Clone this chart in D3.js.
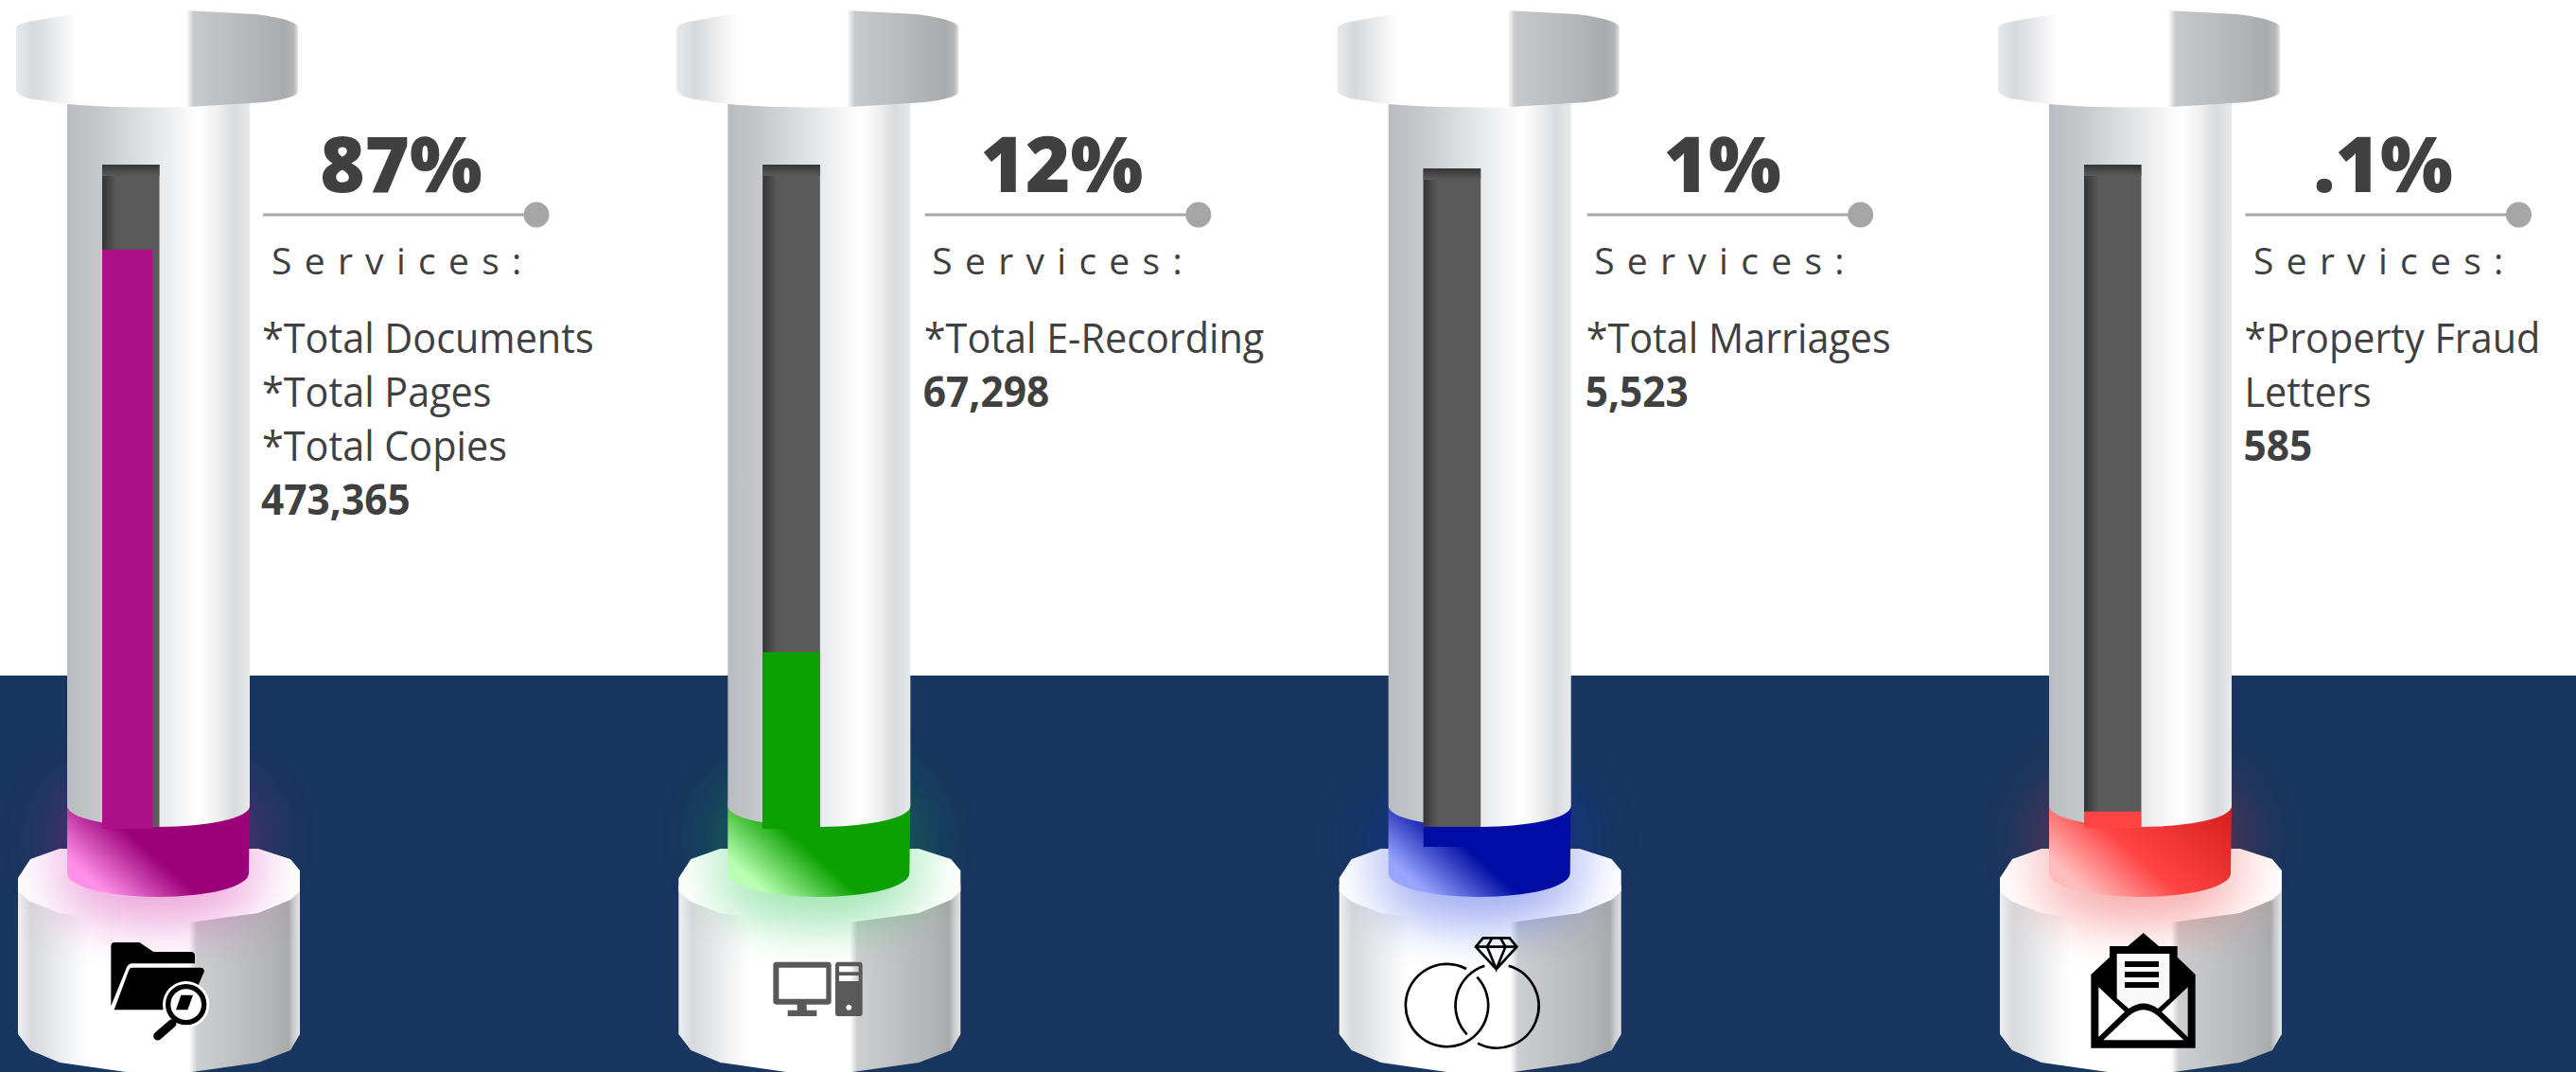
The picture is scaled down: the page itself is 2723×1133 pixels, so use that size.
<!DOCTYPE html>
<html>
<head>
<meta charset="utf-8">
<script src="https://cdn.jsdelivr.net/npm/d3@7"></script>
<style>
  html, body { margin: 0; padding: 0; background: #fff; }
  svg { display: block; }
  text { font-family: "Open Sans", sans-serif; fill: #404040; }
</style>
</head>
<body>
<svg id="chart"></svg>
<script>
// Chart data
const percentLabels = ["87%", "12%", "1%", ".1%"];
const serviceLines = [
  ["*Total Documents", "*Total Pages", "*Total Copies"],
  ["*Total E-Recording"],
  ["*Total Marriages"],
  ["*Property Fraud", "Letters"]
];
const totals = [473365, 67298, 5523, 585];
// fill level of each gauge as drawn, % of the slot height
const fillTop = [87.2, 26.6, 0.3, 2.6];
const fillBase = [0, 0, -2.7, 0.1];

// Colours per column
const barColors = ["#ad0f87", "#0ca100", "#000ca3", "#ff4444"];
const bandLight = ["#ff8fe8", "#b8ffb2", "#98a4ff", "#ffbcbc"];
const bandDark = ["#9b0078", "#0ca100", "#000ca3", "#ff4444"];
const bandEnd = ["#9b0078", "#0ca100", "#000ca3", "#d82020"];
const glowColors = ["#d020a8", "#10c040", "#1030e0", "#f03030"];

const svgWidth = 2723;
const svgHeight = 1133;
const navyTop = 714;
// small per-column nudges of the text block against the tube
const bodyNudge = [0, 1.5, 3, 0.5];
const servicesNudge = [0, 0, 1.5, 0];

const svg = d3.select("#chart")
  .attr("width", svgWidth)
  .attr("height", svgHeight);

const xCol = d3.scaleLinear().domain([0, 3]).range([0, 2095]);
const yLevel = d3.scaleLinear().domain([0, 100]).range([876, 174]);

const defs = svg.append("defs");

function addGradient(id, stops, x1, x2, y1, y2) {
  const g = defs.append("linearGradient")
    .attr("id", id)
    .attr("gradientUnits", "userSpaceOnUse")
    .attr("x1", x1).attr("x2", x2)
    .attr("y1", y1 || 0).attr("y2", y2 || 0);
  stops.forEach(s => {
    g.append("stop")
      .attr("offset", (s[0] - stops[0][0]) / (stops[stops.length - 1][0] - stops[0][0]))
      .attr("stop-color", s[1]);
  });
}

addGradient("capGrad", [[17, "#e8e9eb"], [36, "#d7d8db"], [81, "#ffffff"], [197, "#ffffff"], [205, "#c8c9cb"],
  [244, "#bcbdc0"], [301, "#aaabad"], [310, "#b5b6b8"], [315, "#e0e1e3"]], 17, 315);
addGradient("tubeGrad", [[71, "#b9bcc0"], [105, "#c5c8cb"], [166, "#e6e7e9"], [211, "#ffffff"], [228, "#f2f2f2"],
  [248, "#d9dadc"], [264, "#e8e9eb"]], 71, 264);
addGradient("baseGrad", [[19, "#eff0f2"], [33, "#d8d9dc"], [60, "#e9eaec"], [93, "#ffffff"], [200, "#ffffff"],
  [208, "#ccced0"], [287, "#b3b4b6"], [305, "#a9aaac"], [310, "#c9cacb"], [317, "#e4e5e7"]], 19, 317);
addGradient("wellLeft", [[108, "#343434"], [123, "#5a5a5a"]], 108, 123);
addGradient("wellTop", [[0, "#343434"], [12, "#5a5a5a"]], 0, 0, 0, 12);

barColors.forEach((c, i) => {
  const g = defs.append("linearGradient")
    .attr("id", "band" + i)
    .attr("gradientUnits", "userSpaceOnUse")
    .attr("x1", 80).attr("y1", 915)
    .attr("x2", 189).attr("y2", 793);
  g.append("stop").attr("offset", 0).attr("stop-color", bandLight[i]);
  g.append("stop").attr("offset", 0.39).attr("stop-color", bandDark[i]);
  g.append("stop").attr("offset", 1).attr("stop-color", bandEnd[i]);
});

const blur = defs.append("filter")
  .attr("id", "glow")
  .attr("x", "-50%").attr("y", "-80%")
  .attr("width", "200%").attr("height", "260%");
blur.append("feGaussianBlur").attr("stdDeviation", 26);

defs.append("clipPath").attr("id", "belowLine")
  .append("rect")
  .attr("x", -100).attr("y", navyTop)
  .attr("width", 600).attr("height", svgHeight - navyTop);

const pedestalBody = "M19 935 L19 1093 L32 1110 L63 1123 L133 1133 L203 1133 L273 1123 L307 1110 L317 1093 L317 935 Z";
const pedestalFace = "M19 928 L32 908 L63 897 L273 897 L307 908 L317 920 L317 942 L307 951 L273 965 L200 975 L133 975 L63 965 L32 953 L19 942 Z";

defs.append("clipPath").attr("id", "onPedestal")
  .selectAll("path")
  .data([pedestalBody, pedestalFace])
  .join("path")
  .attr("d", d => d);

// Background
svg.append("rect").attr("width", svgWidth).attr("height", svgHeight).attr("fill", "#fff");
svg.append("rect")
  .attr("y", navyTop)
  .attr("width", svgWidth)
  .attr("height", svgHeight - navyTop)
  .attr("fill", "#18365f");

const columns = svg.selectAll("g.column")
  .data(percentLabels)
  .join("g")
  .attr("class", "column")
  .attr("transform", (d, i) => "translate(" + xCol(i) + ",0)");

// Pedestal
columns.append("path")
  .attr("fill", "url(#baseGrad)")
  .attr("d", pedestalBody);
columns.append("path")
  .attr("fill", "#ffffff")
  .attr("d", pedestalFace);

// Glow round the lit ring
columns.append("g")
  .attr("clip-path", "url(#belowLine)")
  .append("ellipse")
  .attr("cx", 167).attr("cy", 885)
  .attr("rx", 120).attr("ry", 85)
  .attr("fill", (d, i) => glowColors[i])
  .attr("opacity", 0.24)
  .attr("filter", "url(#glow)");
// the same light falling on the pedestal reads wider
columns.append("g")
  .attr("clip-path", "url(#onPedestal)")
  .append("ellipse")
  .attr("cx", 167).attr("cy", 945)
  .attr("rx", 115).attr("ry", 34)
  .attr("fill", (d, i) => glowColors[i])
  .attr("opacity", 0.24)
  .attr("filter", "url(#glow)");

// Lit ring
columns.append("path")
  .attr("fill", (d, i) => "url(#band" + i + ")")
  .attr("d", "M71 845 L71 923 A96 25 0 0 0 263 923 L264 845 Z");

// Tube
columns.append("path")
  .attr("fill", "url(#tubeGrad)")
  .attr("d", "M71 100 L71 852 A96.5 22 0 0 0 264 852 L264 100 Z");

// Slot
const slotTop = i => yLevel(100) + (i === 2 ? 4 : 0);
columns.append("rect")
  .attr("x", 108).attr("width", 60.5)
  .attr("y", (d, i) => slotTop(i))
  .attr("height", (d, i) => yLevel(0) - 2 - slotTop(i))
  .attr("fill", "#5a5a5a");
columns.append("rect")
  .attr("x", 108).attr("width", 15)
  .attr("y", (d, i) => slotTop(i))
  .attr("height", (d, i) => yLevel(0) - 2 - slotTop(i))
  .attr("fill", "url(#wellLeft)");
columns.append("rect")
  .attr("x", 108).attr("width", 60.5)
  .attr("y", 0).attr("height", 12)
  .attr("transform", (d, i) => "translate(0," + slotTop(i) + ")")
  .attr("fill", "url(#wellTop)");

// Fill bar
columns.append("rect")
  .attr("x", 108)
  .attr("width", (d, i) => i === 0 ? 53.5 : 60)
  .attr("y", (d, i) => yLevel(fillTop[i]))
  .attr("height", (d, i) => yLevel(fillBase[i]) - yLevel(fillTop[i]))
  .attr("fill", (d, i) => barColors[i]);

// Cap
columns.append("path")
  .attr("fill", "url(#capGrad)")
  .attr("d", "M17 30 Q17 26 30 23 L70 16 Q130 11 195 11 L270 15 Q310 20 315 28 L315 98 Q310 104 280 108 L200 113 Q130 115 70 110 L30 104 Q17 100 17 95 Z");

// Leader line and dot
columns.append("line")
  .attr("x1", (d, i) => 278 + bodyNudge[i]).attr("x2", (d, i) => 567 + bodyNudge[i])
  .attr("y1", 227).attr("y2", 227)
  .attr("stroke", "#a6a6a6").attr("stroke-width", 3);
columns.append("circle")
  .attr("cx", (d, i) => 567 + bodyNudge[i]).attr("cy", 227).attr("r", 13.5)
  .attr("fill", "#a6a6a6");

// Text
columns.append("text")
  .attr("x", 424).attr("y", 203)
  .attr("text-anchor", "middle")
  .style("font-size", "81px")
  .style("font-weight", 800)
  .text(d => d);

columns.append("text")
  .attr("x", (d, i) => 287 + servicesNudge[i]).attr("y", 290)
  .style("font-size", "39px")
  .style("letter-spacing", "13.3px")
  .text("Services:");

// the reference face runs a little narrower than Open Sans
columns.each(function(d, i) {
  const g = d3.select(this);
  const x = 277 + bodyNudge[i];
  serviceLines[i].forEach((line, j) => {
    g.append("text")
      .attr("transform", "translate(" + x + "," + (372.5 + j * 57) + ") scale(0.94,1)")
      .style("font-size", "44px")
      .text(line);
  });
  g.append("text")
    .attr("transform", "translate(" + (x - 1) + "," + (372.5 + serviceLines[i].length * 57) + ") scale(0.965,1)")
    .style("font-size", "44px")
    .style("font-weight", 700)
    .text(d3.format(",")(totals[i]));
});

// Icons, drawn in 3x pixel units
const iconOrigins = [0, 680, 1380, 2080];
const icons = svg.selectAll("g.icon")
  .data(iconOrigins)
  .join("g")
  .attr("class", "icon")
  .attr("transform", d => "translate(" + d + ",780) scale(" + (1 / 3) + ")");

// folder with magnifier
const folder = d3.select(icons.nodes()[0]);
folder.append("path").attr("fill", "#000")
  .attr("d", "M352 660 q0 -12 12 -12 h78 l45 30 h118 q13 0 13 12 v25 H420 q-12 0 -18 12 L352 850 Z");
folder.append("path").attr("fill", "#000")
  .attr("d", "M418 728 H635 q15 0 12 14 L595 862 H362 L408 738 q3 -10 10 -10 Z");
folder.append("circle").attr("cx", 590).attr("cy", 845).attr("r", 74).attr("fill", "#fff");
folder.append("circle").attr("cx", 590).attr("cy", 845).attr("r", 57)
  .attr("fill", "#fff").attr("stroke", "#000").attr("stroke-width", 16);
folder.append("path").attr("fill", "#000")
  .attr("d", "M558 862 L574 815 H612 L595 862 Z");
folder.append("line")
  .attr("x1", 546).attr("y1", 905).attr("x2", 500).attr("y2", 945)
  .attr("stroke", "#000").attr("stroke-width", 27).attr("stroke-linecap", "round");
folder.append("line")
  .attr("x1", 556).attr("y1", 893).attr("x2", 538).attr("y2", 910)
  .attr("stroke", "#000").attr("stroke-width", 10);

// computer
d3.select(icons.nodes()[1]).append("path")
  .attr("fill", "#595959")
  .attr("fill-rule", "evenodd")
  .attr("d", "M422 710 H586 q10 0 10 10 V835 q0 10 -10 10 H518 V863 H550 V882 H458 V863 H488 V845 H422 q-10 0 -10 -10 V720 q0 -10 10 -10 Z"
    + "M430 728 V827 H580 V728 Z"
    + "M619 710 H685 q10 0 10 10 V872 q0 10 -10 10 H619 q-10 0 -10 -10 V720 q0 -10 10 -10 Z"
    + "M621 724 V742 H683 V724 Z M621 753 V771 H683 V753 Z"
    + "M652 845 a9 9 0 1 0 0.01 0 Z");

// rings and diamond
const rings = d3.select(icons.nodes()[2]).append("g")
  .attr("fill", "none").attr("stroke", "#000").attr("stroke-width", 8);
rings.append("path").attr("d", "M510 732 A131 131 0 1 0 544 758");
rings.append("path").attr("d", "M644 722 A133 133 0 1 1 546 968");
rings.append("path").attr("d", "M568 722 A133 133 0 0 0 512 940");
rings.append("path").attr("stroke-linejoin", "miter")
  .attr("d", "M563 634 H647 L670 662 L605 733 L540 662 Z M540 662 H670 M592 634 L576 662 L605 733 L634 662 L618 634");

// open envelope
const envelope = d3.select(icons.nodes()[3]);
envelope.append("path")
  .attr("fill", "#000")
  .attr("fill-rule", "evenodd")
  .attr("d", "M391 750 L450 695 V660 H508 L557 618 L606 660 H665 V695 L722 750 V983 H391 Z"
    + "M415 790 V948 L498 868 Z M698 790 L615 868 L698 948 Z");
envelope.append("path")
  .attr("fill", "#f8f8f8")
  .attr("d", "M473 684 H640 V825 L603 858 Q557 825 511 858 L473 825 Z");
[708, 741, 774].forEach(y => {
  envelope.append("rect")
    .attr("x", 498).attr("y", y)
    .attr("width", 108).attr("height", 18)
    .attr("fill", "#000");
});
envelope.append("path")
  .attr("fill", "#fff")
  .attr("d", "M430 958 L510 882 Q557 842 604 882 L685 958 Z");
</script>
</body>
</html>
